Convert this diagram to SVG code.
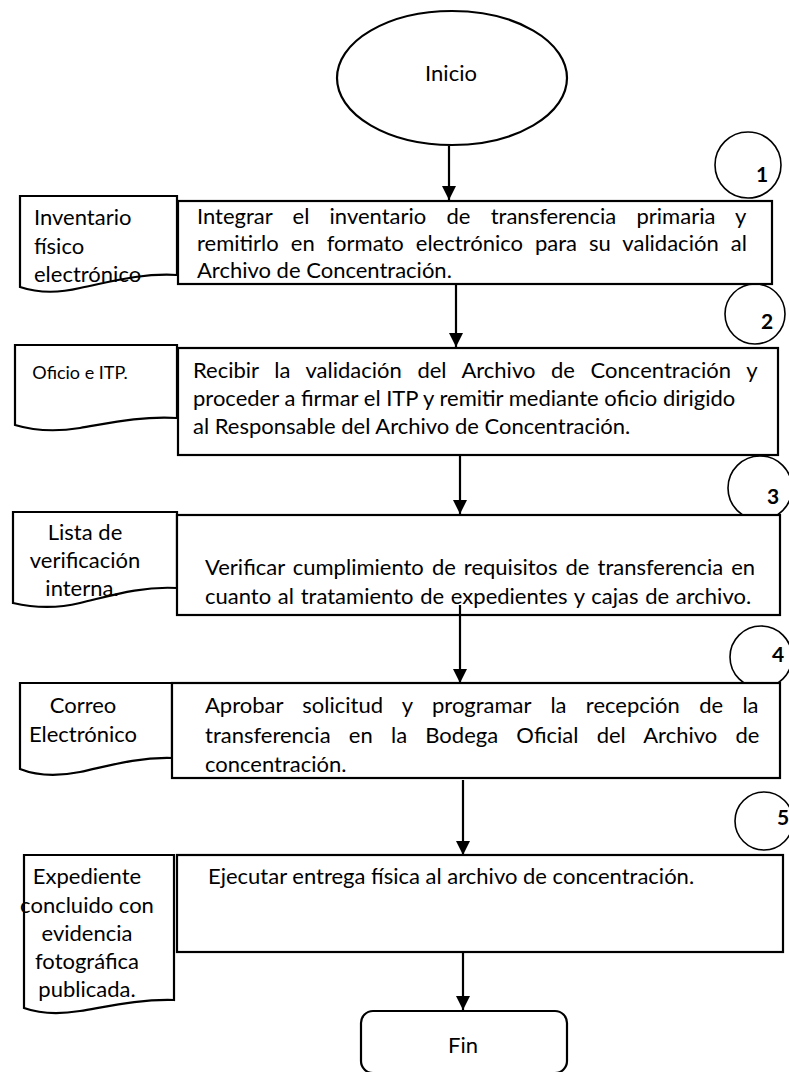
<svg xmlns="http://www.w3.org/2000/svg" width="789" height="1072" viewBox="0 0 789 1072">
<defs>
<style>
.b{fill:#fff;stroke:#000;stroke-width:2.2}
.c{fill:none;stroke:#000;stroke-width:1.6}
.t{font-family:Lato,"Liberation Sans",sans-serif;font-size:22px;fill:#000}
.m{text-anchor:middle}
.n{font-family:Lato,"Liberation Sans",sans-serif;font-size:21px;font-weight:bold;fill:#000;text-anchor:middle}
.ln{fill:none;stroke:#000;stroke-width:2.2}
</style>
<marker id="ah" viewBox="0 0 14 14" refX="14" refY="7" markerWidth="14" markerHeight="14" markerUnits="userSpaceOnUse" orient="auto">
<path d="M0,0 L14,7 L0,14 Z" fill="#000"/>
</marker>
</defs>
<rect width="789" height="1072" fill="#fff"/>

<g id="inicio">
<ellipse class="b" cx="452" cy="78" rx="115" ry="67"/>
<text class="t m" x="451" y="81">Inicio</text>
</g>

<g id="c1"><circle class="c" cx="748" cy="165" r="33"/><text class="n" x="762" y="182">1</text></g>
<g id="c2"><circle class="c" cx="755" cy="314" r="30"/><text class="n" x="767" y="329">2</text></g>
<g id="c3"><circle class="c" cx="760" cy="488" r="32"/><text class="n" x="773" y="504">3</text></g>
<g id="c4"><circle class="c" cx="761" cy="657" r="31"/><text class="n" x="778" y="662">4</text></g>
<g id="c5"><circle class="c" cx="764" cy="821" r="29"/><text class="n" x="783" y="825">5</text></g>

<g id="doc1">
<path class="b" d="M20,196 H177 V275 C140,273 110,282 80,288 C55,294 35,292 20,287 Z"/>
<text class="t" x="34" y="225">Inventario</text>
<text class="t" x="34" y="254">físico</text>
<text class="t" x="34" y="282">electrónico</text>
</g>
<g id="step1">
<rect class="b" x="178" y="201" width="594" height="83"/>
<text class="t" x="197" y="224" word-spacing="14.6">Integrar el inventario de transferencia primaria y</text>
<text class="t" x="197" y="251" word-spacing="6.4">remitirlo en formato electrónico para su validación al</text>
<text class="t" x="197" y="278">Archivo de Concentración.</text>
</g>

<g id="doc2">
<path class="b" d="M15,345 H177 V418 C140,416 110,423 80,428 C55,432 35,431 15,425 Z"/>
<text class="t m" x="80" y="379" style="font-size:18px">Oficio e ITP.</text>
</g>
<g id="step2">
<rect class="b" x="178" y="348" width="600" height="107"/>
<text class="t" x="193" y="378" word-spacing="10">Recibir la validación del Archivo de Concentración y</text>
<text class="t" x="193" y="406">proceder a firmar el ITP y remitir mediante oficio dirigido</text>
<text class="t" x="193" y="434">al Responsable del Archivo de Concentración.</text>
</g>

<g id="doc3">
<path class="b" d="M13,512 H177 V588 C140,586 110,596 80,603 C55,609 35,608 13,603 Z"/>
<text class="t m" x="85" y="540">Lista de</text>
<text class="t m" x="85" y="568">verificación</text>
<text class="t m" x="82" y="596">interna.</text>
</g>
<g id="step3">
<rect class="b" x="177" y="515" width="603" height="100"/>
<text class="t" x="205" y="575" word-spacing="2.4">Verificar cumplimiento de requisitos de transferencia en</text>
<text class="t" x="205" y="604" word-spacing="1.1">cuanto al tratamiento de expedientes y cajas de archivo.</text>
</g>

<g id="doc4">
<path class="b" d="M20,683 H172 V758 C135,757 105,767 80,772 C55,777 35,775 20,769 Z"/>
<text class="t m" x="83" y="713">Correo</text>
<text class="t m" x="83" y="742">Electrónico</text>
</g>
<g id="step4">
<rect class="b" x="172" y="683" width="608" height="95"/>
<text class="t" x="205" y="713" word-spacing="13.7">Aprobar solicitud y programar la recepción de la</text>
<text class="t" x="205" y="743" word-spacing="12.6">transferencia en la Bodega Oficial del Archivo de</text>
<text class="t" x="205" y="772">concentración.</text>
</g>

<g id="doc5">
<path class="b" d="M24,855 H174 V1000 C140,999 110,1006 80,1011 C55,1015 38,1013 24,1008 Z"/>
<text class="t m" x="87" y="884">Expediente</text>
<text class="t m" x="87" y="913">concluido con</text>
<text class="t m" x="87" y="941">evidencia</text>
<text class="t m" x="87" y="969">fotográfica</text>
<text class="t m" x="87" y="997">publicada.</text>
</g>
<g id="step5">
<rect class="b" x="177" y="855" width="606" height="97"/>
<text class="t" x="208" y="884">Ejecutar entrega física al archivo de concentración.</text>
</g>

<g id="fin">
<rect class="b" x="361" y="1011" width="206" height="62" rx="12"/>
<text class="t m" x="463" y="1053">Fin</text>
</g>

<g id="connectors">
<line class="ln" x1="449" y1="146" x2="449" y2="200" marker-end="url(#ah)"/>
<line class="ln" x1="456" y1="284" x2="456" y2="347" marker-end="url(#ah)"/>
<line class="ln" x1="460" y1="456" x2="460" y2="514" marker-end="url(#ah)"/>
<line class="ln" x1="460" y1="605" x2="460" y2="683" marker-end="url(#ah)"/>
<line class="ln" x1="463" y1="780" x2="463" y2="855" marker-end="url(#ah)"/>
<line class="ln" x1="463" y1="952" x2="463" y2="1010" marker-end="url(#ah)"/>
</g>
</svg>
